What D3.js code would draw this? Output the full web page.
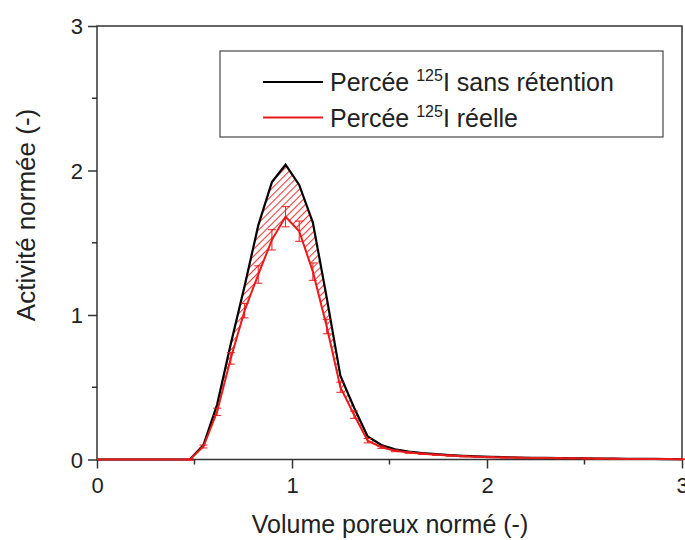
<!DOCTYPE html>
<html>
<head>
<meta charset="utf-8">
<script src="https://cdn.jsdelivr.net/npm/d3@7"></script>
<style>
  html, body { margin: 0; padding: 0; background: #fff; }
  svg { display: block; font-family: "Liberation Sans", Arial, sans-serif; }
</style>
</head>
<body>
<svg id="chart" width="685" height="540"></svg>
<script>
// ---- data ----
const volume = [0.055, 0.125, 0.195, 0.265, 0.336, 0.406, 0.476, 0.546, 0.616, 0.686, 0.757, 0.827, 0.897, 0.967, 1.037, 1.107, 1.178, 1.248, 1.318, 1.388, 1.458, 1.528, 1.598, 1.668, 1.738, 1.808, 1.878, 1.948, 2.018, 2.088, 2.158, 2.228, 2.298, 2.368, 2.438, 2.508, 2.578, 2.648, 2.718, 2.788, 2.858, 2.928, 2.998];
const sansRetention = [0, 0, 0, 0, 0, 0, 0, 0.10, 0.38, 0.80, 1.20, 1.62, 1.92, 2.04, 1.90, 1.64, 1.12, 0.58, 0.36, 0.16, 0.10, 0.07, 0.055, 0.045, 0.037, 0.030, 0.025, 0.021, 0.018, 0.016, 0.014, 0.012, 0.011, 0.010, 0.009, 0.008, 0.007, 0.006, 0.005, 0.004, 0.004, 0.003, 0.003];
const reelle = [0, 0, 0, 0, 0, 0, 0, 0.09, 0.33, 0.70, 1.03, 1.28, 1.52, 1.68, 1.58, 1.30, 0.92, 0.50, 0.31, 0.13, 0.085, 0.060, 0.048, 0.040, 0.033, 0.027, 0.022, 0.019, 0.016, 0.014, 0.012, 0.011, 0.010, 0.009, 0.008, 0.007, 0.006, 0.005, 0.004, 0.004, 0.003, 0.003, 0.002];
const reelleErr = [0, 0, 0, 0, 0, 0, 0.005, 0.01, 0.025, 0.04, 0.05, 0.06, 0.07, 0.07, 0.07, 0.06, 0.05, 0.035, 0.025, 0.015, 0.008, 0.006, 0.005, 0.005, 0.004, 0.004, 0.004, 0.003, 0.003, 0.003, 0.003, 0.003, 0.003, 0.003, 0.003, 0.003, 0.003, 0.003, 0.003, 0.003, 0.003, 0.003, 0.003];
const xTicks = [0, 1, 2, 3];
const yTicks = [0, 1, 2, 3];
const xTitle = "Volume poreux normé (-)";
const yTitle = "Activité normée (-)";
const legendItems = [
  { pre: "Percée ", sup: "125", post: "I sans rétention", color: "#000000" },
  { pre: "Percée ", sup: "125", post: "I réelle", color: "#e81c1c" }
];

// ---- layout ----
const svg = d3.select("#chart");
const L = 97, R = 682, T = 26, B = 459.5;
const x = d3.scaleLinear().domain([0, 3]).range([L, R]);
const y = d3.scaleLinear().domain([0, 3]).range([B, T]);
const RED = "#e81c1c";
const AX = "#333";

// hatch pattern
const defs = svg.append("defs");
const pat = defs.append("pattern")
  .attr("id", "hatch").attr("patternUnits", "userSpaceOnUse")
  .attr("width", 5).attr("height", 5)
  .attr("patternTransform", "rotate(45)");
pat.append("line").attr("x1", 0).attr("y1", 0).attr("x2", 0).attr("y2", 5)
  .attr("stroke", RED).attr("stroke-width", 2.2).attr("stroke-opacity", 0.85);

const pts = volume.map((v, i) => ({ x: v, b: sansRetention[i], r: reelle[i], e: reelleErr[i] }));

// hatched area between curves
const area = d3.area().x(d => x(d.x)).y0(d => y(d.r)).y1(d => y(d.b));
svg.append("path").datum(pts).attr("d", area).attr("fill", "url(#hatch)");

// frame
svg.append("rect").attr("x", L).attr("y", T).attr("width", R - L).attr("height", B - T)
  .attr("fill", "none").attr("stroke", AX).attr("stroke-width", 1.5);

// axes
const xAxis = d3.axisBottom(x).tickValues(xTicks).tickSize(9).tickPadding(9).tickFormat(d3.format("d"));
const gx = svg.append("g").attr("transform", `translate(0,${B})`).call(xAxis);
const yAxis = d3.axisLeft(y).tickValues(yTicks).tickSize(9).tickPadding(5).tickFormat(d3.format("d"));
const gy = svg.append("g").attr("transform", `translate(${L},0)`).call(yAxis);
[gx, gy].forEach(g => {
  g.select(".domain").remove();
  g.selectAll(".tick line").attr("stroke", AX).attr("stroke-width", 1.5);
  g.selectAll(".tick text").attr("fill", "#222").style("font-size", "22px")
    .style("font-family", "'Liberation Sans', Arial, sans-serif");
});
gy.selectAll(".tick text").attr("dy", "0.35em");
// minor ticks
const minor = [0.5, 1.5, 2.5];
svg.append("g").selectAll("line").data(minor).join("line")
  .attr("x1", d => x(d)).attr("x2", d => x(d)).attr("y1", B).attr("y2", B + 5)
  .attr("stroke", AX).attr("stroke-width", 1.5);
svg.append("g").selectAll("line").data(minor).join("line")
  .attr("y1", d => y(d)).attr("y2", d => y(d)).attr("x1", L).attr("x2", L - 5)
  .attr("stroke", AX).attr("stroke-width", 1.5);

// curves
const lineB = d3.line().x(d => x(d.x)).y(d => y(d.b));
const lineR = d3.line().x(d => x(d.x)).y(d => y(d.r));
svg.append("path").datum([{ x: 0, b: 0 }].concat(pts)).attr("d", lineB)
  .attr("fill", "none").attr("stroke", "#000").attr("stroke-width", 2.2).attr("stroke-linejoin", "miter");
svg.append("path").datum([{ x: 0, r: 0 }].concat(pts)).attr("d", lineR)
  .attr("fill", "none").attr("stroke", RED).attr("stroke-width", 2);

// error bars
const eb = svg.append("g").attr("stroke", RED).attr("stroke-width", 1);
pts.filter(d => d.e > 0).forEach(d => {
  const cx = x(d.x), y1 = y(d.r + d.e), y2 = y(d.r - d.e);
  eb.append("line").attr("x1", cx).attr("x2", cx).attr("y1", y1).attr("y2", y2);
  eb.append("line").attr("x1", cx - 4).attr("x2", cx + 4).attr("y1", y1).attr("y2", y1);
  eb.append("line").attr("x1", cx - 4).attr("x2", cx + 4).attr("y1", y2).attr("y2", y2);
});

// axis titles
svg.append("text").attr("x", 390).attr("y", 533).attr("text-anchor", "middle")
  .style("font-size", "25px").attr("fill", "#222").text(xTitle);
svg.append("text").attr("transform", `translate(35,215) rotate(-90)`)
  .attr("text-anchor", "middle").style("font-size", "26px").attr("fill", "#222").text(yTitle);

// legend
const lg = svg.append("g");
lg.append("rect").attr("x", 220).attr("y", 51).attr("width", 443).attr("height", 86)
  .attr("fill", "#fff").attr("stroke", "#555").attr("stroke-width", 1.3);
legendItems.forEach((it, i) => {
  const ly = 82 + i * 35.5;
  lg.append("line").attr("x1", 263).attr("x2", 323).attr("y1", ly).attr("y2", ly)
    .attr("stroke", it.color).attr("stroke-width", 2);
  const t = lg.append("text").attr("x", 330).attr("y", ly + 9).style("font-size", "25px").attr("fill", "#222");
  t.append("tspan").text(it.pre);
  t.append("tspan").attr("dy", -10).style("font-size", "16px").text(it.sup);
  t.append("tspan").attr("dy", 10).text(it.post);
});
</script>
</body>
</html>
